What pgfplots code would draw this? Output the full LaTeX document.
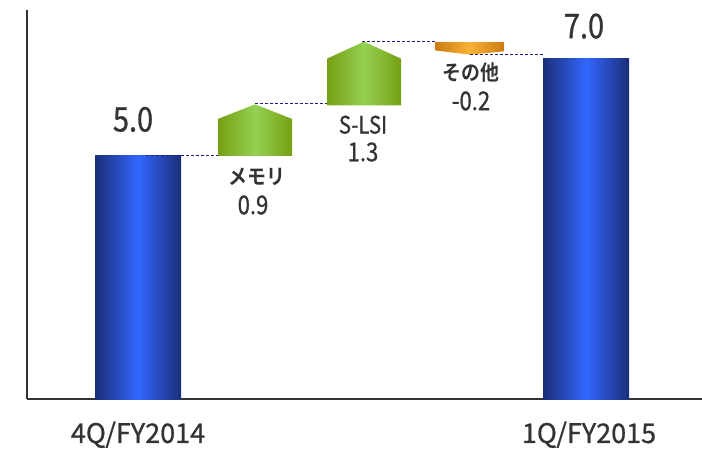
\documentclass[border=0pt]{standalone}
\usepackage{pgfplots}
\pgfplotsset{compat=1.18}
\usepackage{fontspec}
\setmainfont{Noto Sans CJK JP}[FakeStretch=0.85, FakeBold=0.8]
\newfontfamily\wide{Noto Sans CJK JP}[FakeBold=0.8]
\newfontfamily\jbold{Noto Sans CJK JP Bold}[FakeStretch=0.9]
\definecolor{txt}{HTML}{333333}
\definecolor{bdark}{HTML}{1B2E78}
\definecolor{blight}{HTML}{3366FF}
\definecolor{gdark}{HTML}{76A012}
\definecolor{glight}{HTML}{94D052}
\definecolor{odark}{HTML}{CC7A12}
\definecolor{olight}{HTML}{F8B236}
\definecolor{dline}{HTML}{1A1A8C}
\begin{document}
\begin{tikzpicture}
\useasboundingbox (0,0) rectangle (702pt,448pt);
\begin{axis}[at={(27pt,49pt)}, anchor=south west, scale only axis,
  width=675pt, height=389pt, xmin=27, xmax=702, ymin=0, ymax=8,
  axis lines=left, axis line style={-, line width=1.4pt, color=black!80},
  ytick=\empty, xtick={138,589}, xticklabels={4Q/FY2014,1Q/FY2015},
  major tick length=0pt,
  xticklabel style={font=\wide\fontsize{27}{30}\selectfont, text=txt, yshift=-19pt},
  clip=false]
% blue bars
\addplot[draw=none, left color=bdark, right color=bdark, middle color=blight]
  coordinates {(95,0)(95,5.0)(181,5.0)(181,0)} -- cycle;
\addplot[draw=none, left color=bdark, right color=bdark, middle color=blight]
  coordinates {(543,0)(543,7.0)(629,7.0)(629,0)} -- cycle;
% memory
\addplot[draw=none, left color=gdark, right color=gdark, middle color=glight]
  coordinates {(218,5.0)(218,5.76)(255,6.06)(292,5.76)(292,5.0)} -- cycle;
% S-LSI
\addplot[draw=none, left color=gdark, right color=gdark, middle color=glight]
  coordinates {(327,6.04)(327,7.0)(364,7.35)(401,7.0)(401,6.04)} -- cycle;
% other
\addplot[draw=none, left color=odark, right color=odark, middle color=olight]
  coordinates {(435,7.34)(504,7.34)(504,7.15)(470,7.08)(435,7.17)} -- cycle;
% connectors
\addplot[dline, densely dashed, line width=0.8pt] coordinates {(146,5.02)(218,5.02)};
\addplot[dline, densely dashed, line width=0.8pt] coordinates {(255,6.07)(327,6.07)};
\addplot[dline, densely dashed, line width=0.8pt] coordinates {(362,7.36)(435,7.36)};
\addplot[dline, densely dashed, line width=0.8pt] coordinates {(470,7.08)(545,7.08)};
% labels
\node[text=txt, font=\fontsize{34}{36}\selectfont] at (axis cs:133,5.75) {5.0};
\node[text=txt, font=\fontsize{34}{36}\selectfont] at (axis cs:584,7.67) {7.0};
\node[text=txt, font=\jbold\fontsize{21}{24}\selectfont] at (axis cs:257,4.57) {メモリ};
\node[text=txt, font=\fontsize{26}{28}\selectfont] at (axis cs:253,3.99) {0.9};
\node[text=txt, font=\fontsize{24}{26}\selectfont] at (axis cs:363,5.64) {S-LSI};
\node[text=txt, font=\fontsize{26}{28}\selectfont] at (axis cs:363,5.08) {1.3};
\node[text=txt, font=\jbold\fontsize{21}{24}\selectfont] at (axis cs:471,6.71) {その他};
\node[text=txt, font=\fontsize{26}{28}\selectfont] at (axis cs:471,6.13) {-0.2};
\end{axis}
\end{tikzpicture}
\end{document}
